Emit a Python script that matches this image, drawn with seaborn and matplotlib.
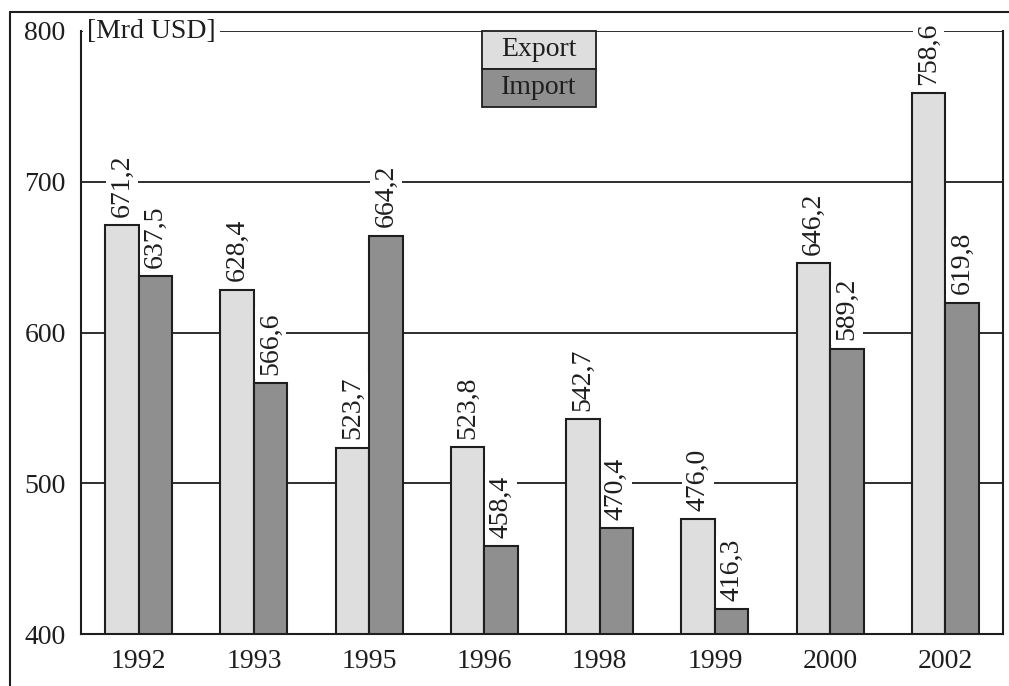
import matplotlib
matplotlib.use("Agg")
import matplotlib.pyplot as plt
from matplotlib.patches import Rectangle
from matplotlib.lines import Line2D
import seaborn as sns
import pandas as pd

years = ["1992", "1993", "1995", "1996", "1998", "1999", "2000", "2002"]
export_vals = [671.2, 628.4, 523.7, 523.8, 542.7, 476.0, 646.2, 758.6]
import_vals = [637.5, 566.6, 664.2, 458.4, 470.4, 416.3, 589.2, 619.8]
series = ["Export", "Import"]
y_ticks = [400, 500, 600, 700, 800]
unit_label = "[Mrd USD]"

light = "#dedede"
dark = "#8f8f8f"
ink = "#1e1e1e"

sns.set_style("white")
plt.rcParams["font.family"] = ["Liberation Serif", "DejaVu Serif"]
plt.rcParams["font.size"] = 20

df = pd.DataFrame({
    "Jahr": years * 2,
    "Wert": export_vals + import_vals,
    "Serie": [series[0]] * len(years) + [series[1]] * len(years),
})

fig = plt.figure(figsize=(10.09, 6.86), dpi=100)
ax = fig.add_axes([81 / 1009, 1 - 634 / 686, (1003 - 81) / 1009, (634 - 31) / 686])

sns.barplot(data=df, x="Jahr", y="Wert", hue="Serie", order=years, hue_order=series,
            palette=[light, dark], saturation=1, width=0.58, edgecolor=ink,
            linewidth=1.5, legend=False, ax=ax, zorder=2)

ax.set_ylim(400, 800)
ax.set_xlim(-0.5, len(years) - 0.5)
ax.set_yticks(y_ticks)
ax.set_xlabel("")
ax.set_ylabel("")

# gridlines (behind bars)
for t in y_ticks[1:]:
    ax.axhline(t, color=ink, lw=1.3, zorder=1)

for side in ["left", "bottom", "right"]:
    ax.spines[side].set_color(ink)
    ax.spines[side].set_linewidth(1.5)
ax.spines["top"].set_visible(False)

ax.tick_params(axis="y", direction="out", length=7, width=1.3, color=ink,
               pad=4, labelsize=20, labelcolor=ink)
ax.tick_params(axis="x", length=0, pad=11, labelsize=20, labelcolor=ink)

# value labels
for cont in ax.containers:
    for bar in cont:
        h = bar.get_height()
        txt = f"{h:.1f}".replace(".", ",")
        ax.annotate(txt, (bar.get_x() + bar.get_width() / 2, h),
                    xytext=(0, 6), textcoords="offset points",
                    rotation=90, ha="center", va="bottom", fontsize=20,
                    color=ink, zorder=4,
                    bbox=dict(boxstyle="square,pad=0.12", fc="white", ec="none"))

# unit label
ax.text(0.007, 800, unit_label, transform=ax.get_yaxis_transform(),
        ha="left", va="center", fontsize=20, color=ink, zorder=4,
        bbox=dict(boxstyle="square,pad=0.15", fc="white", ec="none"))

# custom legend boxes
lx0, lx1 = (482 - 81) / 922, (596 - 81) / 922
ly = [1.0, 1 - 38 / 603, 1 - 76 / 603]
for i, (name, col) in enumerate(zip(series, [light, dark])):
    y0, y1 = ly[i + 1], ly[i]
    ax.add_patch(Rectangle((lx0, y0), lx1 - lx0, y1 - y0, transform=ax.transAxes,
                           facecolor=col, edgecolor=ink, lw=1.3, clip_on=False, zorder=6))
    ax.text((lx0 + lx1) / 2, (y0 + y1) / 2, name, transform=ax.transAxes,
            ha="center", va="center", fontsize=20, color=ink, zorder=7)

# outer frame lines
fig.add_artist(Line2D([10 / 1009, 10 / 1009], [0, 1 - 12 / 686], transform=fig.transFigure,
                      color=ink, lw=1.5))
fig.add_artist(Line2D([10 / 1009, 1], [1 - 12 / 686, 1 - 12 / 686], transform=fig.transFigure,
                      color=ink, lw=1.5))

fig.savefig("out.png", dpi=100)
